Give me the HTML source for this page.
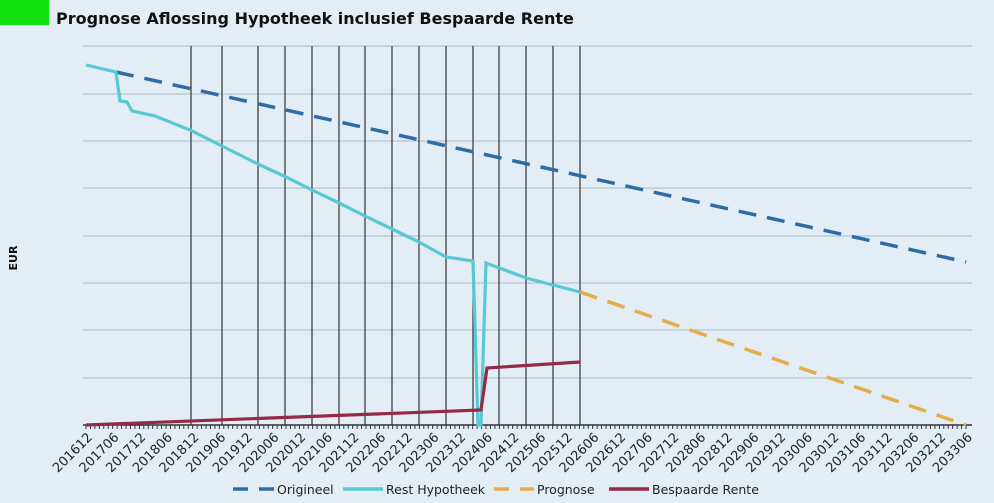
<!DOCTYPE html>
<html><head><meta charset="utf-8"><style>
body{margin:0;background:#e2edf5;}
svg{display:block;font-family:"DejaVu Sans","Liberation Sans",sans-serif;}
</style></head><body>
<svg id="s" width="994" height="503" xmlns="http://www.w3.org/2000/svg">
<rect width="994" height="503" fill="#e2edf5"/>
<rect x="0" y="0" width="49" height="25" fill="#11e011"/>
<text x="56" y="24" font-size="16" font-weight="bold" fill="#111">Prognose Aflossing Hypotheek inclusief Bespaarde Rente</text>
<text x="17" y="258" font-size="11" font-weight="bold" fill="#111" transform="rotate(-90 17 258)" text-anchor="middle">EUR</text>
<g id="grid" stroke="#a9bac6" stroke-width="1"></g>
<g id="vl" stroke="#333" stroke-width="1.2"></g>
<line x1="83" y1="425" x2="972" y2="425" stroke="#333" stroke-width="1.5"/>
<g id="ticks" stroke="#333" stroke-width="1"></g>
<g id="labels" font-size="13" fill="#222"></g>
<polyline fill="none" stroke="#2e6ca8" stroke-width="3.5" stroke-dasharray="18,11" points="116,72 966,262"/>
<polyline fill="none" stroke="#e5ad4a" stroke-width="3.5" stroke-dasharray="18,11" points="580,292 966,425"/>
<polyline fill="none" stroke="#58c8d4" stroke-width="3.2" points="86,65 116,72 120,101 127,102 132,111 155,116 190,130 222,146 258,164 286,177 312,190 339,203 365,216 392,229 419,242 446,257 473,261 478,425 481,425 486,263 526,278 580,292"/>
<polyline fill="none" stroke="#962945" stroke-width="3.2" points="86,425 481,410 487,368 580,362"/>
<g font-size="12.5" fill="#222">
<line x1="233" y1="489" x2="276" y2="489" stroke="#2e6ca8" stroke-width="3.5" stroke-dasharray="15,11"/>
<text x="277" y="494">Origineel</text>
<line x1="343" y1="489" x2="383" y2="489" stroke="#58c8d4" stroke-width="3.5"/>
<text x="386" y="494">Rest Hypotheek</text>
<line x1="494" y1="489" x2="534" y2="489" stroke="#e5ad4a" stroke-width="3.5" stroke-dasharray="15,11"/>
<text x="537" y="494">Prognose</text>
<line x1="609" y1="489" x2="649" y2="489" stroke="#962945" stroke-width="3.5"/>
<text x="652" y="494">Bespaarde Rente</text>
</g>
</svg>
<script>
var ns="http://www.w3.org/2000/svg";
function el(p,t,a,txt){var e=document.createElementNS(ns,t);for(var k in a)e.setAttribute(k,a[k]);if(txt)e.textContent=txt;document.getElementById(p).appendChild(e);}
[46,94,141,188,236,283,330,378].forEach(function(y){el("grid","line",{x1:83,x2:972,y1:y,y2:y});});
[191,222,258,285,312,339,365,392,419,446,473,499,526,553,580].forEach(function(x){el("vl","line",{x1:x,x2:x,y1:46,y2:425});});
var x0=86,dx=(966-86)/198;
for(var m=0;m<=198;m++){var x=x0+m*dx;el("ticks","line",{x1:x,x2:x,y1:425,y2:429});}
for(var i=0;i<34;i++){var tot=2016*12+11+i*6;var y=Math.floor(tot/12),mo=tot%12+1;
var lab=""+y+(mo<10?"0"+mo:mo);var x=x0+i*6*dx+7;var yy=438;
el("labels","text",{x:x,y:yy,"text-anchor":"end",transform:"rotate(-45 "+x+" "+yy+")"},lab);}
</script>
</body></html>
